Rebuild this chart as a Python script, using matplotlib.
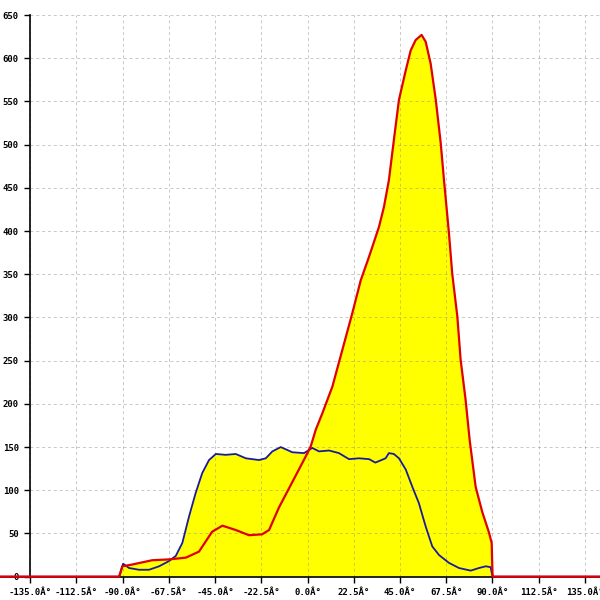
import numpy as np
import matplotlib.pyplot as plt

# angle (deg) / value pairs
red_x = [-149.6, -91.7, -90.1, -85.4, -75.6, -67.4, -59.2, -52.8, -46.4, -41.4,
         -34.9, -28.5, -22.1, -18.7, -13.9, -7.5, -0.9, 1.6, 4.0, 7.2, 12.1,
         16.9, 21.8, 25.9, 29.9, 34.8, 37.2, 39.6, 42.0, 44.5, 47.8, 50.2, 52.6,
         55.5, 57.5, 59.9, 62.4, 64.8, 66.4, 68.8, 70.4, 72.9, 74.5, 76.9,
         78.9, 81.8, 85.0, 88.3, 89.6, 90.0, 90.2, 142.3]
red_y = [0, 0, 12, 14, 19, 20, 22, 29, 52, 59,
         54, 48, 49, 54, 80, 109, 139, 151, 170, 189, 220,
         262, 305, 343, 370, 405, 428, 459, 505, 552, 586, 609, 621,
         627, 619, 594, 552, 502, 459, 398, 351, 301, 251, 205,
         158, 104, 75, 51, 39, 4, 0, 0]

blue_x = [-149.6, -91.5, -89.7, -86.8, -82.0, -77.1, -72.2, -67.4, -64.1, -60.9,
          -57.6, -54.4, -51.2, -47.9, -44.6, -39.8, -34.9, -30.0, -23.6, -20.3,
          -17.1, -13.0, -7.4, -1.7, 2.3, 5.6, 10.5, 15.3, 20.2, 25.0, 30.0,
          33.0, 38.0, 39.6, 42.0, 44.5, 47.8, 51.0, 54.2, 57.5, 60.7, 64.0,
          68.8, 73.7, 79.4, 83.4, 86.7, 89.1, 90.0, 142.3]
blue_y = [0, 0, 15, 10, 8, 8, 12, 18, 24, 39,
          70, 97, 120, 135, 142, 141, 142, 137, 135, 137,
          145, 150, 144, 143, 149, 145, 146, 143, 136, 137, 136,
          132, 137, 143, 142, 137, 124, 104, 85, 58, 35, 25,
          16, 10, 7, 10, 12, 11, 0, 0]

x_ticks = np.arange(-135, 135.1, 22.5)
y_ticks = np.arange(0, 651, 50)
x_labels = [f"{t:.1f}\u00c2\u00b0" for t in x_ticks]

fig = plt.figure(figsize=(6, 6), dpi=100)
ax = fig.add_axes([0, 0, 1, 1])
ax.set_xlim(-149.6, 142.3)
ax.set_ylim(-27, 667.4)

ax.fill_between(red_x, red_y, color='#ffff00', lw=0, zorder=1)
ax.fill_between(blue_x, blue_y, color='#ffff00', lw=0, zorder=1)

# dashed grid
ax.vlines(x_ticks, 0, 650, colors='#909090', alpha=0.5, linestyles=(0, (3, 3)), lw=0.7, zorder=2)
ax.hlines(y_ticks[1:], -135, 142.3, colors='#909090', alpha=0.5, linestyles=(0, (3, 3)), lw=0.7, zorder=2)

ax.plot(blue_x, blue_y, color='#1a1aa0', lw=1.3, zorder=3)
ax.plot(red_x, red_y, color='#e00000', lw=1.6, zorder=4)

for s in ['top', 'right']:
    ax.spines[s].set_visible(False)
ax.spines['left'].set_position(('data', -135))
ax.spines['left'].set_bounds(0, 650)
ax.spines['bottom'].set_position(('data', 0))
ax.spines['left'].set_linewidth(1.2)
ax.spines['bottom'].set_linewidth(1.2)

ax.set_xticks(x_ticks)
ax.set_xticklabels(x_labels)
ax.set_yticks(y_ticks)
ax.tick_params(axis='both', direction='out', length=4, width=1,
               labelsize=6.5, pad=4)
for lab in ax.get_xticklabels() + ax.get_yticklabels():
    lab.set_family('DejaVu Sans Mono')
    lab.set_fontweight('bold')

fig.savefig('out.png', dpi=100)
